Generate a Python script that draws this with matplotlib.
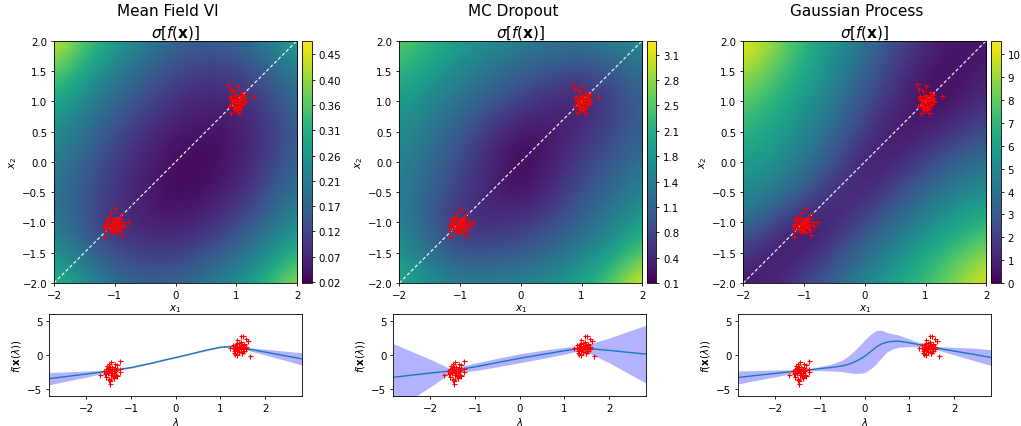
import numpy as np
import matplotlib
matplotlib.use("Agg")
import matplotlib.pyplot as plt
from matplotlib.colors import Normalize

# ---------------- data ----------------
method_names = ["Mean Field VI", "MC Dropout", "Gaussian Process"]
sigma_title = r"$\sigma[f(\mathbf{x})]$"

# heat-map grid (x1 columns, x2 rows from -2 to 2 in 0.5 steps)
grid_x1 = [-2.0, -1.5, -1.0, -0.5, 0.0, 0.5, 1.0, 1.5, 2.0]
grid_x2 = [-2.0, -1.5, -1.0, -0.5, 0.0, 0.5, 1.0, 1.5, 2.0]

# rows listed from x2 = -2 (first) to x2 = 2 (last)
sigma_mfvi = [
    [0.33, 0.25, 0.19, 0.16, 0.17, 0.20, 0.25, 0.32, 0.42],
    [0.26, 0.18, 0.12, 0.10, 0.10, 0.13, 0.18, 0.24, 0.32],
    [0.21, 0.14, 0.08, 0.06, 0.05, 0.07, 0.11, 0.17, 0.25],
    [0.20, 0.14, 0.09, 0.05, 0.03, 0.04, 0.07, 0.13, 0.20],
    [0.22, 0.16, 0.10, 0.06, 0.03, 0.03, 0.05, 0.10, 0.17],
    [0.25, 0.19, 0.13, 0.08, 0.05, 0.04, 0.05, 0.09, 0.16],
    [0.30, 0.23, 0.17, 0.12, 0.08, 0.06, 0.07, 0.11, 0.18],
    [0.37, 0.29, 0.22, 0.16, 0.12, 0.10, 0.11, 0.15, 0.22],
    [0.46, 0.36, 0.28, 0.22, 0.17, 0.16, 0.17, 0.22, 0.30],
]
sigma_mcd = [
    [2.1, 1.7, 1.5, 1.5, 1.6, 1.7, 2.0, 2.5, 3.3],
    [1.8, 1.3, 0.9, 0.9, 1.0, 1.2, 1.5, 1.9, 2.5],
    [1.6, 1.0, 0.5, 0.5, 0.6, 0.8, 1.1, 1.5, 1.9],
    [1.5, 1.1, 0.7, 0.4, 0.2, 0.5, 0.9, 1.2, 1.6],
    [1.6, 1.2, 0.8, 0.4, 0.15, 0.35, 0.7, 1.0, 1.3],
    [1.7, 1.4, 1.0, 0.6, 0.25, 0.3, 0.5, 0.8, 1.1],
    [1.9, 1.6, 1.3, 1.0, 0.7, 0.5, 0.4, 0.7, 1.1],
    [2.2, 1.9, 1.6, 1.3, 1.1, 0.9, 0.8, 1.0, 1.3],
    [2.6, 2.2, 1.9, 1.7, 1.5, 1.4, 1.4, 1.5, 1.7],
]
sigma_gp = [
    [0.6, 1.0, 2.2, 3.5, 5.0, 6.2, 7.4, 8.8, 10.3],
    [1.8, 0.6, 0.8, 2.2, 3.6, 5.0, 6.3, 7.5, 8.8],
    [3.8, 2.4, 0.6, 1.0, 2.4, 3.6, 5.0, 6.0, 6.9],
    [5.2, 4.4, 3.0, 1.2, 1.0, 2.2, 3.6, 4.6, 5.4],
    [6.0, 5.4, 4.2, 2.6, 0.8, 1.0, 2.2, 3.2, 4.0],
    [6.9, 6.1, 5.0, 3.5, 1.8, 0.5, 0.8, 1.6, 2.6],
    [8.0, 6.8, 5.7, 4.2, 2.6, 1.2, 0.3, 0.6, 1.4],
    [9.3, 7.9, 6.4, 5.0, 3.3, 1.8, 0.6, 0.4, 0.9],
    [10.6, 9.0, 7.0, 5.6, 4.0, 2.5, 1.2, 0.6, 0.6],
]

cbar_ranges = [(0.02, 0.478), (0.107, 3.306), (0.0, 10.6)]
cbar_ticks = [
    [0.022, 0.070, 0.118, 0.165, 0.213, 0.261, 0.309, 0.357, 0.404, 0.452],
    [0.107, 0.442, 0.777, 1.112, 1.447, 1.782, 2.117, 2.452, 2.787, 3.122],
    [0, 1, 2, 3, 4, 5, 6, 7, 8, 9, 10],
]
cbar_labels = [
    ["0.02", "0.07", "0.12", "0.17", "0.21", "0.26", "0.31", "0.36", "0.40", "0.45"],
    ["0.1", "0.4", "0.8", "1.1", "1.4", "1.8", "2.1", "2.5", "2.8", "3.1"],
    ["0", "1", "2", "3", "4", "5", "6", "7", "8", "9", "10"],
]

# observed inputs: cluster near (1, 1) and cluster near (-1, -1)
pts_a_x1 = [0.86, 0.89, 1.01, 0.95, 1.07, 1.10, 1.27, 0.90, 0.93, 0.97, 1.00, 1.03, 1.05, 1.08,
            1.12, 1.14, 0.92, 0.95, 0.98, 1.01, 1.04, 1.07, 1.10, 0.88, 0.96, 1.02, 0.99, 1.06,
            0.92, 1.05, 0.94, 1.00, 1.03, 1.09, 0.97, 1.12, 0.91, 1.06, 0.98, 1.13]
pts_a_x2 = [1.29, 1.21, 1.26, 1.17, 1.15, 1.12, 1.08, 1.05, 1.02, 1.08, 1.10, 1.05, 1.00, 1.03,
            1.05, 0.98, 0.95, 0.92, 0.97, 0.93, 0.90, 0.94, 0.96, 0.92, 0.88, 0.87, 0.85, 0.88,
            0.80, 0.80, 1.00, 1.02, 0.97, 1.08, 1.03, 1.10, 1.08, 1.06, 0.90, 1.02]
pts_a_f = [1.6, 1.3, 2.0, 2.8, 1.1, 0.9, -0.2, 0.5, 1.8, 2.8, 0.3, 1.4, 0.8, 0.2,
           1.5, 0.6, 1.2, 0.1, 1.0, 2.2, 0.7, 0.4, 1.9, 1.4, 0.9, 1.6, 0.3, 1.1,
           1.0, 0.6, 0.0, 1.3, 0.9, 0.5, 1.7, 2.3, 0.8, 1.2, 0.7, 1.0]

pts_b_x1 = [-0.99, -1.06, -0.90, -1.13, -1.08, -0.96, -0.92, -1.02, -1.15, -1.05, -0.98, -0.93,
            -0.86, -0.78, -1.16, -1.10, -1.03, -0.97, -0.90, -0.84, -1.12, -1.06, -1.00, -0.94,
            -1.16, -1.08, -1.02, -0.97, -0.91, -1.05, -0.88, -1.16, -1.01, -0.95, -1.07, -0.99,
            -1.11, -0.93, -1.04, -1.18]
pts_b_x2 = [-0.76, -0.85, -0.86, -0.92, -0.93, -0.92, -0.95, -0.94, -0.96, -0.98, -0.99, -1.00,
            -0.99, -0.99, -1.03, -1.02, -1.03, -1.04, -1.05, -1.06, -1.08, -1.07, -1.09, -1.10,
            -1.12, -1.12, -1.14, -1.15, -1.13, -1.16, -1.21, -1.24, -1.01, -0.97, -1.05, -1.06,
            -0.97, -1.07, -1.11, -1.06]
pts_b_f = [-0.9, -2.4, -2.0, -1.0, -2.6, -3.0, -1.5, -3.3, -2.2, -1.8, -2.7, -1.3, -3.1, -2.5,
           -1.6, -3.6, -2.9, -2.1, -3.4, -2.2, -2.8, -1.9, -4.3, -2.4, -2.3, -3.2, -2.6, -1.4,
           -3.0, -2.0, -3.8, -2.9, -2.7, -1.9, -3.5, -2.3, -1.7, -3.1, -2.5, -2.8]

# predictive mean and two-sigma half width along the diagonal (lambda)
lam_mfvi = [-2.83, -2.5, -2.0, -1.5, -1.0, -0.75, -0.5, -0.25, 0.0, 0.25, 0.5, 0.75, 1.0, 1.25,
            1.5, 2.0, 2.5, 2.83]
mean_mfvi = [-3.47, -3.2, -2.8, -2.35, -1.85, -1.5, -1.15, -0.75, -0.38, 0.0, 0.4, 0.78, 1.12,
             1.22, 1.0, 0.4, -0.2, -0.6]
half_mfvi = [0.9, 0.7, 0.45, 0.12, 0.1, 0.09, 0.08, 0.08, 0.08, 0.08, 0.08, 0.09, 0.1, 0.1,
             0.15, 0.42, 0.7, 0.9]

lam_mcd = [-2.83, -2.0, -1.55, -1.0, -0.5, 0.0, 0.5, 1.0, 1.4, 2.0, 2.83]
mean_mcd = [-3.27, -2.65, -2.35, -1.75, -1.12, -0.5, 0.05, 0.6, 1.0, 0.65, 0.1]
half_mcd = [4.9, 2.0, 0.3, 0.55, 0.62, 0.65, 0.6, 0.5, 0.3, 1.8, 4.25]

lam_gp = [-2.83, -2.5, -2.0, -1.5, -1.25, -1.0, -0.75, -0.5, -0.375, -0.25, -0.125, 0.0, 0.125,
          0.25, 0.375, 0.5, 0.625, 0.75, 1.0, 1.25, 1.5, 2.0, 2.5, 2.83]
mean_gp = [-3.3, -3.05, -2.7, -2.35, -2.2, -2.0, -1.85, -1.6, -1.4, -1.1, -0.7, -0.2, 0.45,
           1.1, 1.6, 1.85, 1.97, 2.0, 1.75, 1.45, 1.1, 0.55, 0.0, -0.4]
half_gp = [0.95, 0.75, 0.5, 0.15, 0.15, 0.3, 0.5, 0.85, 1.2, 1.6, 2.0, 2.4, 2.5, 2.45, 2.0,
           1.4, 1.1, 0.9, 0.55, 0.3, 0.15, 0.55, 0.95, 1.15]

fields = [sigma_mfvi, sigma_mcd, sigma_gp]
curves = [(lam_mfvi, mean_mfvi, half_mfvi), (lam_mcd, mean_mcd, half_mcd),
          (lam_gp, mean_gp, half_gp)]

# ---------------- figure ----------------
W, H = 1021, 427
fig = plt.figure(figsize=(W / 100, H / 100), dpi=100)
FS = 7.4
TFS = 11
plt.rcParams.update({"font.size": FS, "axes.linewidth": 0.6,
                     "xtick.major.size": 2.5, "ytick.major.size": 2.5,
                     "xtick.major.width": 0.6, "ytick.major.width": 0.6,
                     "xtick.major.pad": 2.5, "ytick.major.pad": 2.5})


def ax_px(l, t, w, h):
    return fig.add_axes([l / W, 1 - (t + h) / H, w / W, h / H])


top_left = [54, 399.3, 743.3]
cb_left = [302.3, 646.7, 991.0]
bot_left = [49.3, 393.3, 738.3]

g1 = np.array(grid_x1)
g2 = np.array(grid_x2)
dx = (g1[1] - g1[0]) / 2
allx1 = np.array(pts_a_x1 + pts_b_x1)
allx2 = np.array(pts_a_x2 + pts_b_x2)
allf = np.array(pts_a_f + pts_b_f)
lam_pts = (allx1 + allx2) / np.sqrt(2)

for i in range(3):
    ax = ax_px(top_left[i], 41.7, 243, 242.3)
    vmin, vmax = cbar_ranges[i]
    im = ax.imshow(np.array(fields[i]), origin="lower", cmap="viridis",
                   norm=Normalize(vmin, vmax), interpolation="bicubic",
                   extent=[g1[0] - dx, g1[-1] + dx, g2[0] - dx, g2[-1] + dx], aspect="auto")
    ax.plot([-2, 2], [-2, 2], color="white", ls="--", lw=0.8, dashes=(3, 2))
    ax.plot(allx1, allx2, "+", color="red", ms=3.6, mew=0.8)
    ax.set_xlim(-2, 2)
    ax.set_ylim(-2, 2)
    ax.set_xticks([-2, -1, 0, 1, 2])
    ax.set_yticks([-2.0, -1.5, -1.0, -0.5, 0.0, 0.5, 1.0, 1.5, 2.0])
    ax.set_yticklabels(["−2.0", "−1.5", "−1.0", "−0.5", "0.0", "0.5", "1.0", "1.5", "2.0"])
    ax.set_xticklabels(["−2", "−1", "0", "1", "2"])
    ax.tick_params(labelsize=FS)
    ax.set_xlabel(r"$x_1$", fontsize=FS, labelpad=1.5)
    ax.set_ylabel(r"$x_2$", fontsize=FS, labelpad=2)
    ax.set_title(sigma_title, fontsize=TFS, pad=2.5)
    cx = (top_left[i] + 121.5 - 8) / W
    fig.text(cx, 1 - 16 / H, method_names[i], ha="center", va="baseline", fontsize=TFS)

    cax = ax_px(cb_left[i], 41.7, 9.5, 242.3)
    cb = fig.colorbar(im, cax=cax, ticks=cbar_ticks[i])
    cb.ax.set_yticklabels(cbar_labels[i])
    cb.ax.tick_params(labelsize=FS, length=2.5, width=0.6)
    cb.outline.set_linewidth(0.6)

    bx = ax_px(bot_left[i], 314.7, 253, 82.3)
    lam, mu, hw = curves[i]
    lam = np.array(lam); mu = np.array(mu); hw = np.array(hw)
    bx.fill_between(lam, mu - hw, mu + hw, color="blue", alpha=0.3, lw=0)
    bx.plot(lam, mu, color="#1f77b4", lw=1.0)
    bx.plot(lam_pts, allf, "+", color="red", ms=3.6, mew=0.8)
    bx.set_xlim(-2.83, 2.83)
    bx.set_ylim(-6, 6)
    bx.set_xticks([-2, -1, 0, 1, 2])
    bx.set_xticklabels(["−2", "−1", "0", "1", "2"])
    bx.set_yticks([-5, 0, 5])
    bx.set_yticklabels(["−5", "0", "5"])
    bx.tick_params(labelsize=FS)
    bx.set_xlabel(r"$\lambda$", fontsize=FS, labelpad=1.5)
    bx.set_ylabel(r"$f(\mathbf{x}(\lambda))$", fontsize=FS, labelpad=3)

fig.savefig("out.png", dpi=100)
